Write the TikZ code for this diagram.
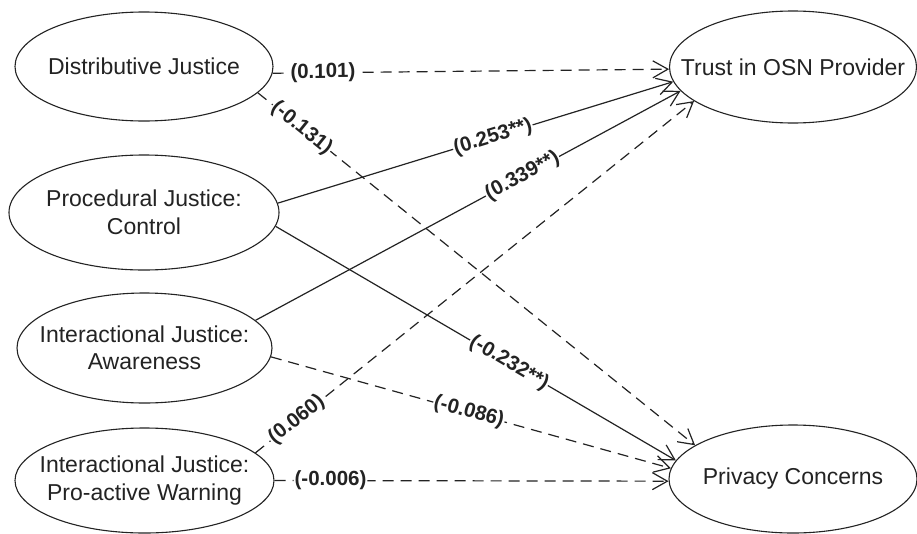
\documentclass[tikz,border=0pt]{standalone}
\usepackage{fontspec}
\setmainfont{Liberation Sans}
\usetikzlibrary{arrows.meta,shapes.geometric}
\definecolor{ink}{RGB}{35,35,35}
\begin{document}
\begin{tikzpicture}[x=1pt,y=-1pt,
  construct/.style={ellipse,draw=ink,line width=1.1pt,inner sep=0pt},
  ctext/.style={text=ink,align=center,inner sep=0pt,font=\fontsize{23}{27.5}\selectfont},
  conn/.style={draw=ink,line width=1.2pt,-{Straight Barb[length=15pt,width=17pt]}},
  dconn/.style={conn,dash pattern=on 11pt off 7pt},
  coef/.style={fill=white,inner sep=1pt,sloped,text=ink,font=\fontsize{20.5}{24}\selectfont\bfseries}]
\useasboundingbox (0,0) rectangle (917,533);
\fill[white] (0,0) rectangle (917,533);
% constructs
\node[construct,minimum width=258pt,minimum height=109pt] (dj) at (144,66.5) {};
\node[construct,minimum width=270pt,minimum height=115pt] (pj) at (144,212.5) {};
\node[construct,minimum width=255pt,minimum height=110pt] (aw) at (144.5,348) {};
\node[construct,minimum width=259pt,minimum height=105pt] (wa) at (144.5,480.5) {};
\node[construct,minimum width=247pt,minimum height=112pt] (tr) at (793,67) {};
\node[construct,minimum width=248pt,minimum height=108pt] (pc) at (793,479) {};
\node[ctext] (djt) at (dj) {Distributive Justice};
\node[ctext] (pjt) at (pj) {Procedural Justice:\\Control};
\node[ctext] (awt) at (aw) {Interactional Justice:\\Awareness};
\node[ctext] (wat) at (wa) {Interactional Justice:\\Pro-active Warning};
\node[ctext] (trt) at (tr) {Trust in OSN Provider};
\node[ctext] (pct) at (pc) {Privacy Concerns};
% paths
\draw[dconn] (dj.-3) -- node[coef,pos=0.127] {(0.101)} (tr.181);
\draw[dconn] (dj.-13.6) -- node[coef,pos=0.1] {(-0.131)} (pc.161.7);
\draw[conn] (pj.4.5) -- node[coef,pos=0.544] {(0.253**)} (tr.187.5);
\draw[conn] (pj.-6.2) -- node[coef,pos=0.583] {(-0.232**)} (pc.171.7);
\draw[conn] (aw.14.6) -- node[coef,pos=0.628] {(0.339**)} (tr.192.3);
\draw[dconn] (aw.-4.1) -- node[coef,pos=0.495] {(-0.086)} (pc.175.4);
\draw[dconn] (wa.14) -- node[coef,pos=0.094] {(0.060)} (tr.199.1);
\draw[dconn] (wa.-0.7) -- node[coef,pos=0.142] {(-0.006)} (pc.181.8);
\end{tikzpicture}
\end{document}
